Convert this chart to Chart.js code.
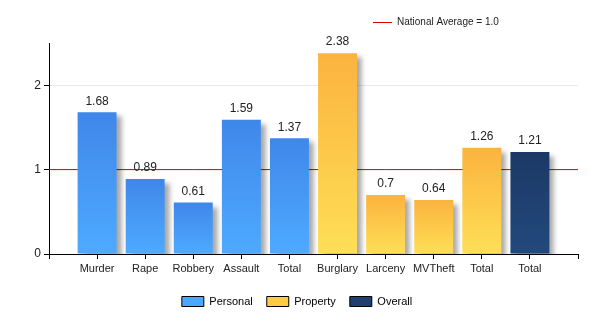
<!DOCTYPE html>
<html>
<head>
<meta charset="utf-8">
<script src="https://cdn.jsdelivr.net/npm/chart.js@4"></script>
<style>
  body { margin: 0; background: #fff; }
  #wrap { width: 600px; height: 325px; }
</style>
</head>
<body>
<div id="wrap"><canvas id="crimechart"></canvas></div>
<script>
// data
const categories = ['Murder', 'Rape', 'Robbery', 'Assault', 'Total', 'Burglary', 'Larceny', 'MVTheft', 'Total', 'Total'];
const personal = [1.68, 0.89, 0.61, 1.59, 1.37, null, null, null, null, null];
const property = [null, null, null, null, null, 2.38, 0.7, 0.64, 1.26, null];
const overall = [null, null, null, null, null, null, null, null, null, 1.21];
const nationalAverage = 1.0;
const yTicks = [0, 1, 2];

// empty slot on each side, like the original axis
const labels = [''].concat(categories, ['']);
const pad = arr => [null].concat(arr, [null]);

function barGradient(top, bottom) {
    return function (c) {
        const chart = c.chart;
        if (!chart.scales || !chart.scales.y || c.raw == null) return bottom;
        const y0 = chart.scales.y.getPixelForValue(0);
        const y1 = chart.scales.y.getPixelForValue(c.raw);
        const g = chart.ctx.createLinearGradient(0, y1, 0, y0);
        g.addColorStop(0, top);
        g.addColorStop(1, bottom);
        return g;
    };
}

const legendFill = ['#4da6ff', '#ffc94a', '#1e3f70'];

const shadowPlugin = {
    id: 'barShadow',
    beforeDatasetDraw(chart, args) {
        if (args.meta.type !== 'bar') return;
        const ctx = chart.ctx;
        ctx.save();
        ctx.shadowColor = 'rgba(0,0,0,0.35)';
        ctx.shadowBlur = 5;
        ctx.shadowOffsetX = 5;
        ctx.shadowOffsetY = 4;
    },
    afterDatasetDraw(chart, args) {
        if (args.meta.type !== 'bar') return;
        chart.ctx.restore();
    }
};

const valueLabels = {
    id: 'valueLabels',
    afterDatasetsDraw(chart) {
        const ctx = chart.ctx;
        ctx.save();
        ctx.font = '12px "Liberation Sans", Arial, sans-serif';
        ctx.fillStyle = '#222';
        ctx.textAlign = 'center';
        ctx.textBaseline = 'bottom';
        chart.data.datasets.forEach((ds, i) => {
            const meta = chart.getDatasetMeta(i);
            if (meta.type !== 'bar') return;
            meta.data.forEach((el, j) => {
                const v = ds.data[j];
                if (v == null) return;
                ctx.fillText(String(v), el.x, el.y - 5);
            });
        });
        ctx.restore();
    }
};

// top right legend for the average line
const avgLegend = {
    id: 'avgLegend',
    afterDraw(chart) {
        const ctx = chart.ctx;
        ctx.save();
        ctx.strokeStyle = '#e00000';
        ctx.lineWidth = 1;
        ctx.beginPath();
        ctx.moveTo(373, 22.5);
        ctx.lineTo(392, 22.5);
        ctx.stroke();
        ctx.font = '10px "Liberation Sans", Arial, sans-serif';
        ctx.fillStyle = '#222';
        ctx.textBaseline = 'middle';
        ctx.fillText('National Average = ' + nationalAverage.toFixed(1), 397, 22);
        ctx.restore();
    }
};

const ctx1 = document.getElementById('crimechart').getContext('2d');
const crimechart = new Chart(ctx1, {
    type: 'bar',
    data: {
        labels: labels,
        datasets: [{
            label: 'Personal',
            data: pad(personal),
            backgroundColor: barGradient('#3f87ea', '#4eaaff'),
            order: 0
        }, {
            label: 'Property',
            data: pad(property),
            backgroundColor: barGradient('#fbb33f', '#fedf56'),
            order: 0
        }, {
            label: 'Overall',
            data: pad(overall),
            backgroundColor: barGradient('#1c3965', '#22497d'),
            order: 0
        }, {
            type: 'line',
            label: 'National Average',
            data: labels.map(() => nationalAverage),
            borderColor: '#e00000',
            borderWidth: 1,
            pointRadius: 0,
            order: 1
        }]
    },
    options: {
        responsive: true,
        maintainAspectRatio: false,
        animation: false,
        skipNull: true,
        categoryPercentage: 0.81,
        barPercentage: 1,
        layout: {
            padding: { left: 16, right: 22, top: 43, bottom: 8 }
        },
        font: { family: '"Liberation Sans", Arial, sans-serif', size: 11 },
        color: '#222',
        scales: {
            x: {
                offset: false,
                afterFit: s => { s.height = 28; },
                border: { color: '#000', width: 1 },
                grid: { offset: false, drawOnChartArea: false, drawTicks: true, tickLength: 5, tickColor: '#000' },
                ticks: { color: '#222', padding: 3, maxRotation: 0, autoSkip: false,
                         font: { size: 11 } }
            },
            y: {
                min: 0,
                max: 2.5,
                afterFit: s => { s.width = 33; },
                afterBuildTicks: s => { s.ticks = yTicks.map(v => ({ value: v })); },
                border: { color: '#000', width: 1 },
                grid: { color: '#e8e8e8', tickLength: 5, tickColor: '#000' },
                ticks: { color: '#222', padding: 3, font: { size: 12 } }
            }
        },
        plugins: {
            tooltip: { enabled: false },
            legend: {
                position: 'bottom',
                labels: {
                    boxWidth: 22,
                    boxHeight: 10,
                    padding: 14,
                    color: '#222',
                    font: { size: 11 },
                    filter: item => item.datasetIndex < 3,
                    generateLabels: chart => chart.data.datasets.slice(0, 3).map((ds, i) => ({
                        text: ds.label,
                        fillStyle: legendFill[i],
                        strokeStyle: '#000',
                        lineWidth: 1,
                        datasetIndex: i,
                        hidden: false
                    }))
                }
            }
        }
    },
    plugins: [shadowPlugin, valueLabels, avgLegend]
});
</script>
</body>
</html>
